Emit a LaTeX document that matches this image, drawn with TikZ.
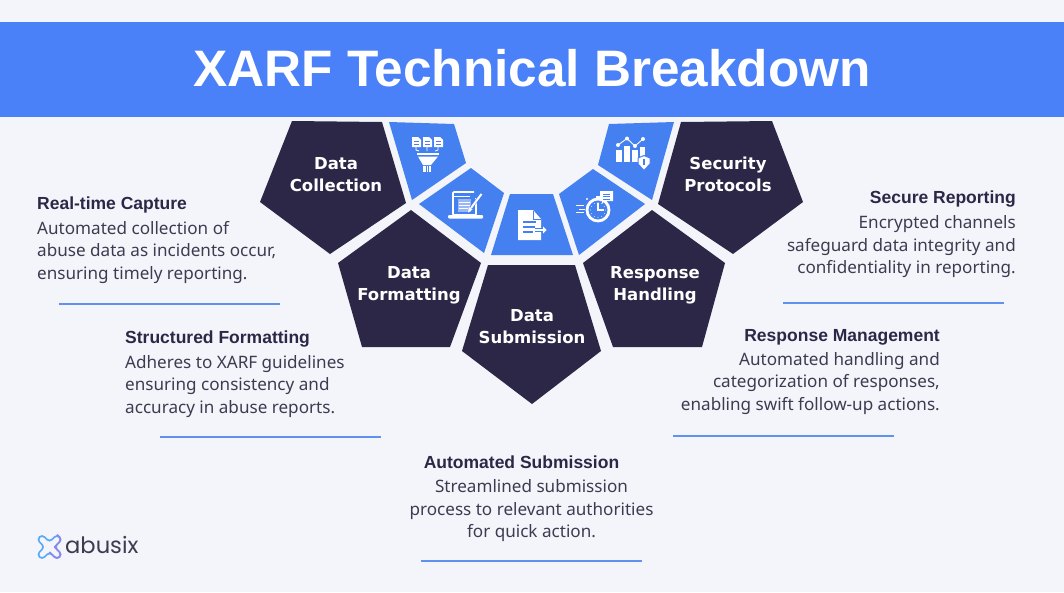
\documentclass[tikz,border=0pt]{standalone}
\usepackage{fontspec}
\setmainfont{Noto Sans}
\newfontfamily\lblfont{DejaVu Sans}
\newfontfamily\logofont{Poppins}
\newfontfamily\headfont{Liberation Sans}
\definecolor{pagebg}{HTML}{F3F5FA}
\definecolor{headblue}{HTML}{4A80F8}
\definecolor{tileblue}{HTML}{4480F0}
\definecolor{navy}{HTML}{2D2747}
\definecolor{bodygray}{HTML}{3C3B50}
\definecolor{ruleblue}{HTML}{5F92EE}
\definecolor{logoblue}{HTML}{5BAAF5}
\definecolor{logopurple}{HTML}{8C86EE}
\tikzset{
         navytile/.style={fill=navy,draw=none},
         bluetile/.style={fill=tileblue,draw=none},
         tilelabel/.style={text=white,font=\lblfont\bfseries\fontsize{16.5}{22.5}\selectfont,align=center},
         headtxt/.style={text=navy,inner sep=0pt,font=\headfont\bfseries\fontsize{17.5}{20}\selectfont},
         bodytxt/.style={text=bodygray,inner sep=0pt,font=\fontsize{17.1}{22.6}\selectfont},
         divider/.style={draw=ruleblue,line width=1.1pt},
         iconfill/.style={fill=white,draw=none},
         iconline/.style={draw=white,line width=1.1pt},
         iconcut/.style={draw=tileblue,line width=1pt}
        }
\begin{document}
\begin{tikzpicture}[x=1pt,y=-1pt]
\useasboundingbox (0,0) rectangle (1064,592);
\fill[pagebg](0,0)rectangle(1064,592);
%banner
\fill[headblue](0,22)rectangle(1064,117);
\node[text=white,font=\headfont\bfseries\fontsize{51.3}{52}\selectfont] (title) at (532,68){XARF Technical Breakdown};
%dark pentagons
\draw[navytile](292,121)--(382,122)--(406,203)--(330,254)--(260,202)--cycle;
\draw[navytile](411,210)--(481,263)--(450,347)--(362,347)--(338,263)--cycle;
\draw[navytile](488,265)--(575,265)--(601,351)--(532,404)--(462,351)--cycle;
\draw[navytile](652,210)--(725,263)--(702,347)--(613,347)--(583,263)--cycle;
\draw[navytile](681,122)--(772,121)--(803,202)--(733,254)--(658,204)--cycle;
%blue tiles
\draw[bluetile](389,122)--(454,124)--(466,163)--(412,200)--cycle;
\draw[bluetile](471,168)--(504,193)--(484,253)--(419,204)--cycle;
\draw[bluetile](510,194)--(553,194)--(573,255)--(491,255)--cycle;
\draw[bluetile](593,169)--(645,204)--(579,255)--(559,194)--cycle;
\draw[bluetile](609,124)--(674,122)--(652,200)--(598,165)--cycle;
%tile labels
\node[tilelabel] (collect) at (336,174.5){Data\\Collection};
\node[tilelabel] (format) at (409,285.5){Data\\Formatting};
\node[tilelabel] (submit) at (532,326.5){Data\\Submission};
\node[tilelabel] (respond) at (655,285.5){Response\\Handling};
\node[tilelabel] (secure) at (728,174.5){Security\\Protocols};
%funnel icon
\foreach \dx in {412,423,434}
 {
  \draw[iconfill](\dx,137)--(\dx+6,137)--(\dx+9,140)--(\dx+9,147)--(\dx,147)--cycle;
  \draw[iconcut,line width=.6pt](\dx+2,141)--(\dx+7,141)(\dx+2,144)--(\dx+7,144);
 }
\draw[iconline,line width=.8pt](416,147)--(416,150)--(419,151)(427,147)--(427,151)(438,147)--(438,150)--(435,151);
\draw[iconfill](417,153)rectangle(439,155);
\draw[iconfill](418,156.5)--(438,156.5)--(431,165)--(423,165)--cycle;
\draw[iconfill](423,166)rectangle(431,172);
\draw[iconcut,line width=.7pt](426,166)--(426,172)(428.5,166)--(428.5,172);
%laptop icon
\draw[iconline,line width=1.6pt,rounded corners=1pt](476,198)--(476,215)--(453,215)--(453,192)--(474,192);
\draw[iconline,line width=1pt](453,196)--(470,196);
\fill[white,opacity=.45](458,199)rectangle(471,212);
\draw[iconline,line width=.8pt](459,202)--(470,202)(459,205)--(470,205)(459,208)--(468,208);
\draw[iconfill,rounded corners=1pt](448,215)rectangle(483,218.5);
\draw[draw=tileblue,line width=3pt](481.5,194)--(470,209);
\draw[iconline,line width=2pt](481.5,194)--(471,208);
\draw[iconfill](472.5,209.5)--(468,212.5)--(469,207)--cycle;
%document icon
\draw[iconfill](518,210)--(533,210)--(541,219)--(541,240)--(518,240)--cycle;
\draw[iconcut](533,211)--(533,219)--(541,219);
\draw[iconcut,line width=1.2pt](523,222)--(536,222)(523,227)--(535,227)(523,232)--(533,232);
\draw[draw=tileblue,line width=4pt](535,230)--(543,230);
\draw[iconline](535,230)--(545,230);
\draw[iconfill](543,226.5)--(546.5,230)--(543,233.5)--cycle;
%stopwatch icon
\draw[iconline,line width=2.8pt](598,210)circle(11);
\draw[iconfill](596,196)rectangle(600,198.5);
\draw[iconfill](587,199)circle(1.2);
\draw[iconline](598,202.5)--(598,210)--(604,210);
\foreach \ang in {0,30,...,330}
 {\fill[white](598,210)+(\ang:7.4)circle(.45);}
\draw[iconline,line width=1pt](576,205.5)--(584,205.5)(579,209)--(585,209)(576,212.5)--(584,212.5);
\draw[iconfill](600,191)--(613,191)--(613,201)--(604,201)--(602,204)--(602,201)--(600,201)--cycle;
\draw[iconcut,line width=.8pt](603,194)--(610,194)(603,196.5)--(610,196.5)(603,199)--(610,199);
%chart icon
\fill[white](616,150)rectangle(622,162);
\fill[white](624,146)rectangle(630,162);
\fill[white](632,150)rectangle(637.5,162);
\fill[white](640,147)rectangle(645,157);
\draw[iconline,line width=.9pt](618,145)--(627,138.5)--(635,146)--(643,139);
\foreach \px/\py in {618/145,627/138.5,635/146,643/139}
 {\fill[white](\px,\py)circle(2);}
\draw[draw=tileblue,fill=white,line width=1pt](638,158)--(644,155.5)--(650,158)--(650,164)--(644,170.5)--(638,164)--cycle;
\draw[iconcut,line width=1.6pt](644,159)--(644,165);
%left blocks
\node[headtxt,anchor=west] (capturehd) at (37,204.5){Real-time Capture};
\node[bodytxt,anchor=north west,align=left] (capturetxt) at (37,221){Automated collection of\\abuse data as incidents occur,\\ensuring timely reporting.};
\draw[divider](59,304)--(280,304);
\node[headtxt,anchor=west] (formathd) at (125,339.5){Structured Formatting};
\node[bodytxt,anchor=north west,align=left] (formattxt) at (125,355){Adheres to XARF guidelines\\ensuring consistency and\\accuracy in abuse reports.};
\draw[divider](160,437)--(381,437);
%bottom block
\node[headtxt] (submithd) at (521.5,462.5){Automated Submission};
\node[bodytxt,anchor=north,align=center] (submittxt) at (531.5,479.5){Streamlined submission\\process to relevant authorities\\for quick action.};
\draw[divider](421,561)--(642,561);
%right blocks
\node[headtxt,anchor=east] (securehd) at (1016,199.5){Secure Reporting};
\node[bodytxt,anchor=north east,align=right] (securetxt) at (1016,215.5){Encrypted channels\\safeguard data integrity and\\confidentiality in reporting.};
\draw[divider](783,303)--(1004,303);
\node[headtxt,anchor=east] (respondhd) at (940,337){Response Management};
\node[bodytxt,anchor=north east,align=right] (respondtxt) at (940,352){Automated handling and\\categorization of responses,\\enabling swift follow-up actions.};
\draw[divider](673,436)--(894,436);
%logo
\begin{scope}[shift={(49.5,547)},rotate=45,scale=.88]
\draw[logoblue,line width=1.7pt,rounded corners=3.5pt](-4,-4)--(-4,-16)--(4,-16)--(4,-4)--(16,-4)--(16,4)--(4,4)--(4,16)--(-4,16)--(-4,4)--(-16,4)--(-16,-4)--cycle;
\draw[logopurple,line width=1.7pt,rounded corners=3.5pt](4,4)--(16,4)--(16,-4);
\draw[logopurple,line width=1.7pt,rounded corners=3.5pt](-4,4)--(-4,16)--(4,16)--(4,4);
\end{scope}
\node[text=bodygray,inner sep=0pt,font=\logofont\fontsize{22.6}{25}\selectfont,anchor=west] (logo) at (65,545){abusix};
\end{tikzpicture}
\end{document}
